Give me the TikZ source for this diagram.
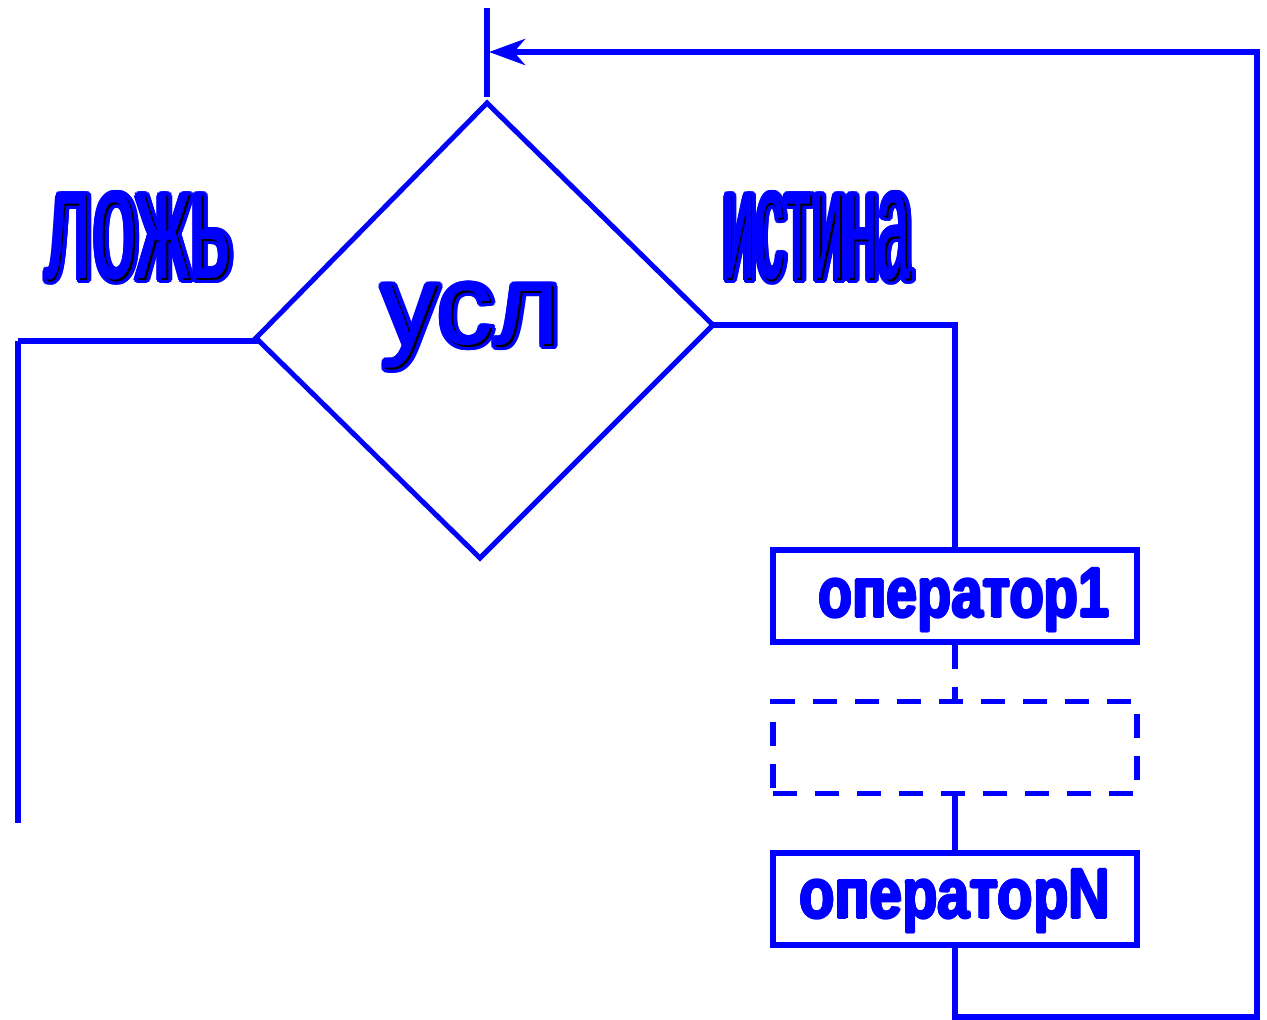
\documentclass[tikz,border=0pt]{standalone}
\usepackage{fontspec}
\usepackage{graphicx}
\setmainfont{Liberation Sans}
\usetikzlibrary{arrows.meta}
\definecolor{lineblue}{RGB}{0,0,255}
\tikzset{
  flow/.style={draw=lineblue, line width=6pt},
  dashflow/.style={draw=lineblue, line width=5.5pt, dash pattern=on 24pt off 18pt},
  opbox/.style={draw=lineblue, line width=6pt, minimum width=364pt, minimum height=92pt, inner sep=0pt},
  lbl/.style={anchor=base, inner sep=0pt}
}
% fancy text in one box: blue fattened outline, black glyph, blue glyph shifted up-left
\newcommand\fancytext[3]{% #1 radius, #2 shade offset, #3 text
  \foreach \ang in {0,20,...,340}{%
    \pgfmathsetlengthmacro\dxx{#1*cos(\ang)}%
    \pgfmathsetlengthmacro\dyy{#1*sin(\ang)}%
    \rlap{\kern\dxx\raisebox{\dyy}{\textcolor{lineblue}{#3}}}}%
  \rlap{\textcolor{black}{#3}}%
  \rlap{\kern-#2\raisebox{#2}{\textcolor{lineblue}{#3}}}%
  \phantom{#3}}
\newcommand\optext[1]{%
  \foreach \ang in {0,45,...,315}{%
    \pgfmathsetlengthmacro\dxx{1.2pt*cos(\ang)}%
    \pgfmathsetlengthmacro\dyy{1.2pt*sin(\ang)}%
    \rlap{\kern\dxx\raisebox{\dyy}{\textcolor{lineblue}{#1}}}}%
  \textcolor{lineblue}{#1}}
\begin{document}
\begin{tikzpicture}[x=1pt, y=-1pt]
\useasboundingbox (0,0) rectangle (1267,1020);
% diamond corners
\coordinate (dT) at (487,103);
\coordinate (dL) at (256,338);
\coordinate (dR) at (713,325);
\coordinate (dB) at (480,558);
\draw[draw=lineblue, line width=5pt, line join=miter] (dT) -- (dR) -- (dB) -- (dL) -- cycle;
% top entry line
\coordinate (in1) at (487,8);
\coordinate (in2) at (487,97);
\draw[flow] (in1) -- (in2);
% boxes
\node[opbox] (op1) at (955,596) {};
\node[opbox, dashflow] (dbox) at (955,747.5) {};
\node[opbox] (opN) at (955,898.5) {};
% false branch
\coordinate (fL) at (18.3,340.5);
\coordinate (fE) at (18.3,823);
\draw[flow] (dL) -- (dL |- fL) -- (fL);
\draw[flow] (fL) -- (fE);
% true branch
\coordinate (tR) at (955,325);
\draw[flow, line join=miter] (dR) -- (tR) -- (op1.north);
\draw[dashflow] (op1.south) -- (dbox.north);
\draw[flow] (dbox.south) -- (opN.north);
% loop back
\coordinate (bR) at (1257,1017);
\coordinate (tRR) at (1257,52);
\coordinate (tip) at (489,52);
\draw[flow, line join=miter, -{Stealth[length=36pt, width=26pt, inset=11pt]}] (opN.south) |- (bR) -- (tRR) -- (tip);
% texts
\node[lbl, font=\fontsize{160}{160}\selectfont] (lozh) at (140,280) {\fancytext{4pt}{1.6pt}{\scalebox{0.5}[1]{ложь}}};
\node[lbl, font=\fontsize{160}{160}\selectfont] (ist) at (818,280) {\fancytext{4pt}{1.6pt}{\scalebox{0.37}[1]{истина}}};
\node[lbl, font=\fontsize{114}{114}\selectfont] (usl) at (472,346) {\fancytext{4pt}{1.6pt}{усл}};
\node[lbl, font=\bfseries\fontsize{70}{70}\selectfont] (t1) at (964,617) {\optext{\scalebox{0.80}[1]{оператор1}}};
\node[lbl, font=\bfseries\fontsize{70}{70}\selectfont] (tN) at (955,918) {\optext{\scalebox{0.83}[1]{операторN}}};
\end{tikzpicture}
\end{document}
